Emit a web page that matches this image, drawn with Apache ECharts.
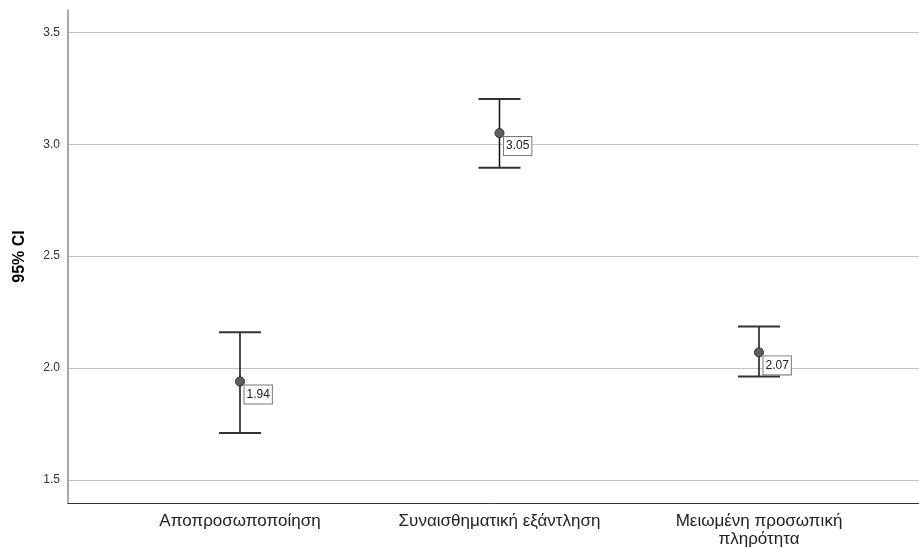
<!DOCTYPE html>
<html>
<head>
<meta charset="utf-8">
<script src="https://cdn.jsdelivr.net/npm/echarts@6/dist/echarts.min.js"></script>
<style>
html,body{margin:0;padding:0;background:#fff;}
#chart{width:919px;height:548px;}
</style>
</head>
<body>
<div id="chart"></div>
<script>
// ---- data ----
const categories = ['Αποπροσωποποίηση', 'Συναισθηματική εξάντληση', 'Μειωμένη προσωπική\nπληρότητα'];
const means = [1.94, 3.05, 2.07];
const lower = [1.71, 2.895, 1.962];
const upper = [2.16, 3.202, 2.186];
const yTicks = [1.5, 2.0, 2.5, 3.0, 3.5];
const yTitle = '95% CI';

const errData = categories.map((c, i) => [i, means[i], lower[i], upper[i]]);
const pointData = categories.map((c, i) => [i, means[i]]);
const font = 'Liberation Sans, Arial, sans-serif';

const chart = echarts.init(document.getElementById('chart'), null, {renderer: 'canvas'});
chart.setOption({
  animation: false,
  backgroundColor: '#ffffff',
  grid: {left: 68, right: 0, top: 10, bottom: 45, containLabel: false},
  xAxis: {
    type: 'value',
    min: -0.6628, max: 2.6166,
    axisLine: {show: true, onZero: false, lineStyle: {color: '#333333', width: 1}},
    axisTick: {show: false},
    splitLine: {show: false},
    axisLabel: {
      customValues: [0, 1, 2],
      formatter: v => categories[Math.round(v)] || '',
      color: '#222222', fontFamily: font, fontSize: 17, margin: 9, lineHeight: 18
    }
  },
  yAxis: {
    type: 'value',
    min: 1.397, max: 3.6,
    name: yTitle,
    nameLocation: 'middle',
    nameGap: 40,
    nameRotate: 90,
    nameTextStyle: {fontFamily: font, fontSize: 16, fontWeight: 'bold', color: '#000'},
    axisLine: {show: true, onZero: false, lineStyle: {color: '#8c8c8c', width: 1.5}},
    axisTick: {show: false, customValues: yTicks},
    splitLine: {show: true, lineStyle: {color: '#c4c4c4', width: 1.2}},
    axisLabel: {
      customValues: yTicks,
      formatter: v => v.toFixed(1),
      color: '#333333', fontFamily: font, fontSize: 12, margin: 8
    }
  },
  series: [
    {
      type: 'custom',
      data: errData,
      z: 2,
      renderItem: function (params, api) {
        const x = api.value(0);
        const pHi = api.coord([x, api.value(3)]);
        const pLo = api.coord([x, api.value(2)]);
        const hw = 21;
        return {
          type: 'group',
          children: [
            {type: 'line', shape: {x1: pHi[0], y1: pHi[1], x2: pLo[0], y2: pLo[1]}, style: {stroke: '#111111', lineWidth: 1.5}},
            {type: 'line', shape: {x1: pHi[0] - hw, y1: pHi[1], x2: pHi[0] + hw, y2: pHi[1]}, style: {stroke: '#333333', lineWidth: 2}},
            {type: 'line', shape: {x1: pLo[0] - hw, y1: pLo[1], x2: pLo[0] + hw, y2: pLo[1]}, style: {stroke: '#333333', lineWidth: 2}}
          ]
        };
      }
    },
    {
      type: 'scatter',
      data: pointData,
      z: 3,
      symbol: 'circle',
      symbolSize: 9,
      itemStyle: {color: '#5f5f5f', borderColor: '#2a2a2a', borderWidth: 1, opacity: 1},
      label: {
        show: true,
        position: [9.5, 9],
        formatter: p => p.value[1].toFixed(2),
        fontFamily: font, fontSize: 12, color: '#222222',
        backgroundColor: '#ffffff', borderColor: '#777777', borderWidth: 1,
        padding: [3, 2, 3, 2]
      }
    }
  ]
});
</script>
</body>
</html>
